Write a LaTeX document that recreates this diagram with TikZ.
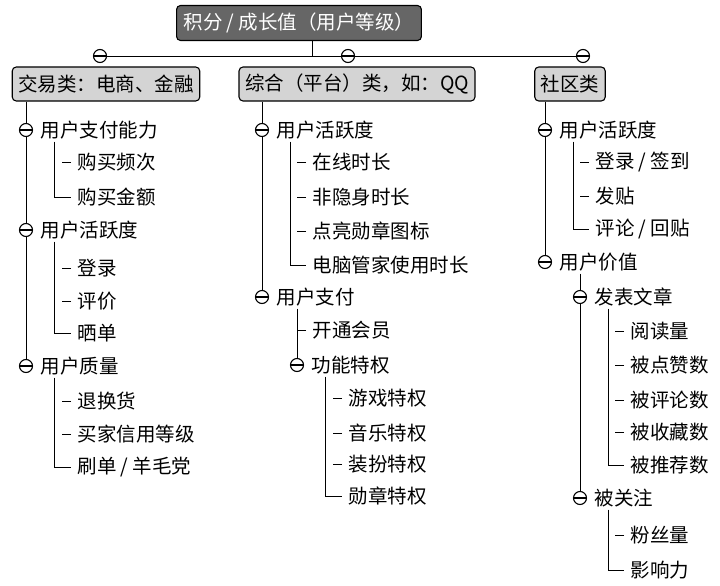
\documentclass[tikz,border=0pt]{standalone}
\usepackage{fontspec}
\setmainfont{Noto Sans CJK SC}
\usetikzlibrary{positioning}
\usetikzlibrary{calc}
\usetikzlibrary{backgrounds}

\begin{document}
\begin{tikzpicture}[x=1pt,y=-1pt,line width=1.1pt,
    font=\fontsize{19.5}{21}\selectfont,
    ]
% -------------------------------------------------
\tikzset{
  root/.style={draw, rounded corners=4pt, fill=black!60, text=white, minimum height=35pt, inner xsep=7pt},
  cat/.style={draw, rounded corners=4pt, fill=black!17, minimum height=34pt, inner xsep=6pt},
  fold/.style={circle, draw, fill=white, minimum size=13pt, inner sep=0pt,
    path picture={\draw (path picture bounding box.west) -- (path picture bounding box.east);}},
  item/.style={anchor=west, inner xsep=3pt, inner ysep=2pt},
  leaf/.style={anchor=west, inner xsep=6pt, inner ysep=2pt},
  line/.style={draw}
}
    \useasboundingbox (0,0) rectangle (720,586);

    \node [root] (top) at (299,23) {积分 / 成长值（用户等级）};
    \node [cat] (trd) at (106,84) {交易类：电商、金融};
    \node [cat] (plt) at (357,84) {综合（平台）类，如：QQ};
    \node [cat] (com) at (570,84) {社区类};

    % top bar
    \node [fold] (f1) at (100,56) {};
    \node [fold] (f2) at (348,56) {};
    \node [fold] (f3) at (583,56) {};

    % column 1: trade
    \node [fold] (t1) at (26,130) {};
    \node [fold] (t2) at (26,230) {};
    \node [fold] (t3) at (26,366) {};
    \node [item, right=4pt of t1] (pay) {用户支付能力};
    \node [item, right=4pt of t2] (act) {用户活跃度};
    \node [item, right=4pt of t3] (qua) {用户质量};
    \node [leaf] (pay1) at (71,162) {购买频次};
    \node [leaf] (pay2) at (71,197) {购买金额};
    \node [leaf] (act1) at (71,268) {登录};
    \node [leaf] (act2) at (71,301) {评价};
    \node [leaf] (act3) at (71,333) {晒单};
    \node [leaf] (qua1) at (71,401) {退换货};
    \node [leaf] (qua2) at (71,434) {买家信用等级};
    \node [leaf] (qua3) at (71,467) {刷单 / 羊毛党};

    % column 2: platform
    \node [fold] (p1) at (262,130) {};
    \node [fold] (p2) at (262,297) {};
    \node [item, right=4pt of p1] (pact) {用户活跃度};
    \node [item, right=4pt of p2] (ppay) {用户支付};
    \node [leaf] (pact1) at (306,162) {在线时长};
    \node [leaf] (pact2) at (306,197) {非隐身时长};
    \node [leaf] (pact3) at (306,231) {点亮勋章图标};
    \node [leaf] (pact4) at (306,265) {电脑管家使用时长};
    \node [leaf] (ppay1) at (306,330) {开通会员};
    \node [fold] (p3) at (297,365) {};
    \node [item, right=4pt of p3] (priv) {功能特权};
    \node [leaf] (priv1) at (342,398) {游戏特权};
    \node [leaf] (priv2) at (342,433) {音乐特权};
    \node [leaf] (priv3) at (342,464) {装扮特权};
    \node [leaf] (priv4) at (342,496) {勋章特权};

    % column 3: community
    \node [fold] (c1) at (545,130) {};
    \node [fold] (c2) at (545,262) {};
    \node [item, right=4pt of c1] (cact) {用户活跃度};
    \node [item, right=4pt of c2] (cval) {用户价值};
    \node [leaf] (cact1) at (589,162) {登录 / 签到};
    \node [leaf] (cact2) at (589,196) {发贴};
    \node [leaf] (cact3) at (589,229) {评论 / 回贴};
    \node [fold] (c3) at (580,297) {};
    \node [fold] (c4) at (580,498) {};
    \node [item, right=4pt of c3] (art) {发表文章};
    \node [item, right=4pt of c4] (fol) {被关注};
    \node [leaf] (art1) at (624,331) {阅读量};
    \node [leaf] (art2) at (624,365) {被点赞数};
    \node [leaf] (art3) at (624,400) {被评论数};
    \node [leaf] (art4) at (624,432) {被收藏数};
    \node [leaf] (art5) at (624,465) {被推荐数};
    \node [leaf] (fol1) at (624,535) {粉丝量};
    \node [leaf] (fol2) at (624,570) {影响力};

\begin{scope}[on background layer]
    \path [line] (top.south -| 312,0) -- (312,56);
    \path [line] (f1) -- (f2) -- (f3);

    \path [line] (trd.south -| t1) -- (t3);
    \path [line] ($(pay.south west)+(17,0)$) |- (pay2.west);
    \path [line] (pay1.west) -- ++(-9,0);
    \path [line] ($(act.south west)+(17,0)$) |- (act3.west);
    \path [line] (act1.west) -- ++(-9,0);
    \path [line] (act2.west) -- ++(-9,0);
    \path [line] ($(qua.south west)+(17,0)$) |- (qua3.west);
    \path [line] (qua1.west) -- ++(-9,0);
    \path [line] (qua2.west) -- ++(-9,0);

    \path [line] (plt.south -| p1) -- (p2);
    \path [line] ($(pact.south west)+(17,0)$) |- (pact4.west);
    \path [line] (pact1.west) -- ++(-9,0);
    \path [line] (pact2.west) -- ++(-9,0);
    \path [line] (pact3.west) -- ++(-9,0);
    \path [line] (ppay.south -| p3) -- (p3);
    \path [line] (ppay1.west) -- ++(-9,0);
    \path [line] ($(priv.south west)+(17,0)$) |- (priv4.west);
    \path [line] (priv1.west) -- ++(-9,0);
    \path [line] (priv2.west) -- ++(-9,0);
    \path [line] (priv3.west) -- ++(-9,0);

    \path [line] (com.south -| c1) -- (c2);
    \path [line] ($(cact.south west)+(17,0)$) |- (cact3.west);
    \path [line] (cact1.west) -- ++(-9,0);
    \path [line] (cact2.west) -- ++(-9,0);
    \path [line] (cval.south -| c3) -- (c4);
    \path [line] ($(art.south west)+(17,0)$) |- (art5.west);
    \path [line] (art1.west) -- ++(-9,0);
    \path [line] (art2.west) -- ++(-9,0);
    \path [line] (art3.west) -- ++(-9,0);
    \path [line] (art4.west) -- ++(-9,0);
    \path [line] ($(fol.south west)+(17,0)$) |- (fol2.west);
    \path [line] (fol1.west) -- ++(-9,0);
\end{scope}

\end{tikzpicture}
\end{document}
